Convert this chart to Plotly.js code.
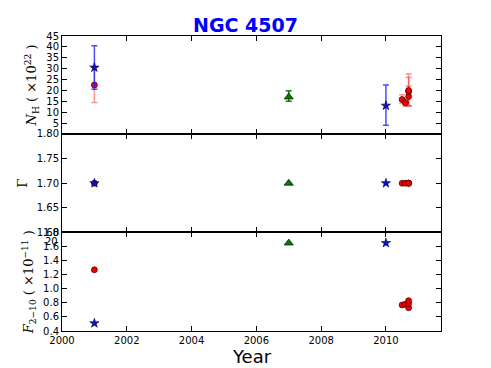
<!DOCTYPE html>
<html>
<head>
<meta charset="utf-8">
<script src="https://cdn.plot.ly/plotly-3.0.1.min.js"></script>
<style>body{margin:0;padding:0;}</style>
</head>
<body>
<div id="graph" style="width:491px;height:368px;"></div>
<script>
// blue stars
var starYear = [2001.0, 2010.0];
var starNH = [30.5, 13.0];
var starNHlo = [20.5, 4.0];
var starNHhi = [40.5, 22.5];
var starGamma = [1.70, 1.70];
var starFlux = [0.51, 1.65];

// red circles
var circYear = [2001.0, 2010.5, 2010.6, 2010.7, 2010.7, 2010.7];
var circNH = [22.5, 15.8, 14.3, 17.2, 19.5, 20.0];
var circNHlo = [14.5, 14.0, 12.8, 12.8, 13.0, 13.0];
var circNHhi = [30.5, 18.0, 16.0, 22.0, 26.0, 27.5];
var circGamma = [1.70, 1.70, 1.70, 1.70, 1.70, 1.70];
var circFlux = [1.27, 0.77, 0.78, 0.73, 0.79, 0.83];

// green triangles
var triYear = [2007.0];
var triNH = [17.0];
var triNHlo = [15.0];
var triNHhi = [19.8];
var triGamma = [1.70];
var triFlux = [1.65];

function errPlus(v, hi) { return v.map(function (d, i) { return hi[i] - d; }); }
function errMinus(v, lo) { return v.map(function (d, i) { return d - lo[i]; }); }

var starMarker = {symbol: 'star', size: 7, color: '#1010c8', line: {color: '#000040', width: 0.6}};
var circMarker = {symbol: 'circle', size: 6, color: '#ee0000', line: {color: '#400000', width: 0.7}};
var triMarker = {symbol: 'triangle-up', size: 8, color: '#107010', line: {color: '#002000', width: 0.7}};

var data = [
    {x: circYear, y: circNH, xaxis: 'x', yaxis: 'y', type: 'scatter', mode: 'markers', marker: circMarker,
        error_y: {type: 'data', symmetric: false, array: errPlus(circNH, circNHhi), arrayminus: errMinus(circNH, circNHlo),
            color: 'rgba(240,60,60,0.55)', thickness: 1.5, width: 3}},
    {x: starYear, y: starNH, xaxis: 'x', yaxis: 'y', type: 'scatter', mode: 'markers', marker: starMarker,
        error_y: {type: 'data', symmetric: false, array: errPlus(starNH, starNHhi), arrayminus: errMinus(starNH, starNHlo),
            color: 'rgba(30,30,255,0.8)', thickness: 1.5, width: 3}},
    {x: triYear, y: triNH, xaxis: 'x', yaxis: 'y', type: 'scatter', mode: 'markers', marker: triMarker,
        error_y: {type: 'data', symmetric: false, array: errPlus(triNH, triNHhi), arrayminus: errMinus(triNH, triNHlo),
            color: '#108010', thickness: 1.5, width: 3}},
    {x: circYear, y: circGamma, xaxis: 'x2', yaxis: 'y2', type: 'scatter', mode: 'markers', marker: circMarker},
    {x: starYear, y: starGamma, xaxis: 'x2', yaxis: 'y2', type: 'scatter', mode: 'markers', marker: starMarker},
    {x: triYear, y: triGamma, xaxis: 'x2', yaxis: 'y2', type: 'scatter', mode: 'markers', marker: triMarker},
    {x: circYear, y: circFlux, xaxis: 'x3', yaxis: 'y3', type: 'scatter', mode: 'markers', marker: circMarker},
    {x: starYear, y: starFlux, xaxis: 'x3', yaxis: 'y3', type: 'scatter', mode: 'markers', marker: starMarker},
    {x: triYear, y: triFlux, xaxis: 'x3', yaxis: 'y3', type: 'scatter', mode: 'markers', marker: triMarker}
];

var tickFont = {family: 'DejaVu Sans', size: 10, color: '#000'};
function xAx(anchor, labels) {
    return {
        anchor: anchor, range: [2000, 2011.7], dtick: 2, tick0: 2000,
        showticklabels: labels, ticks: 'inside', ticklen: 5, tickcolor: '#000', mirror: 'ticks',
        showline: true, linecolor: '#000', linewidth: 1, showgrid: false, zeroline: false,
        tickfont: tickFont
    };
}
function yAx(anchor, domain, range, titleText, tickvals, ticktext) {
    return {
        anchor: anchor, domain: domain, range: range, ticks: 'inside', ticklen: 5, tickcolor: '#000',
        mirror: 'ticks', showline: true, linecolor: '#000', linewidth: 1, showgrid: false, zeroline: false,
        tickfont: tickFont, tickmode: 'array', tickvals: tickvals, ticktext: ticktext,
        title: {text: titleText, font: {family: 'DejaVu Serif', size: 13, color: '#000'}, standoff: 6}
    };
}

var layout = {
    width: 491, height: 368,
    margin: {l: 62, r: 50, t: 36, b: 37},
    paper_bgcolor: '#fff', plot_bgcolor: '#fff',
    showlegend: false,
    title: {text: '<b>NGC 4507</b>', font: {family: 'DejaVu Sans', size: 19, color: '#0000ff'},
        x: 0.5, xanchor: 'center', y: 0.93, yanchor: 'middle'},
    xaxis: xAx('y', false),
    xaxis2: xAx('y2', false),
    xaxis3: xAx('y3', true),
    yaxis: yAx('x', [0.668, 1], [0, 45], '<i>N</i><sub>H</sub> ( ×10<sup>22</sup> )',
        [5, 10, 15, 20, 25, 30, 35, 40, 45], ['5', '10', '15', '20', '25', '30', '35', '40', '45']),
    yaxis2: yAx('x2', [0.334, 0.668], [1.60, 1.80], 'Γ',
        [1.60, 1.65, 1.70, 1.75, 1.80], ['1.60', '1.65', '1.70', '1.75', '1.80']),
    yaxis3: yAx('x3', [0, 0.334], [0.4, 1.8], '<i>F</i><sub>2−10</sub> ( ×10<sup>−11</sup> )',
        [0.4, 0.6, 0.8, 1.0, 1.2, 1.4, 1.6, 1.8], ['0.4', '0.6', '0.8', '1.0', '1.2', '1.4', '1.6', '1.8']),
    annotations: [
        {text: 'Year', xref: 'paper', yref: 'paper', x: 0.5, y: -0.045, xanchor: 'center', yanchor: 'top',
            showarrow: false, font: {family: 'DejaVu Sans', size: 18, color: '#000'}},
        {text: '20', xref: 'paper', yref: 'paper', x: -0.005, y: 0.305, xanchor: 'right', yanchor: 'middle',
            showarrow: false, font: {family: 'DejaVu Sans', size: 10, color: '#000'}}
    ]
};
layout.xaxis.matches = 'x3';
layout.xaxis2.matches = 'x3';

Plotly.newPlot('graph', data, layout, {displayModeBar: false});
</script>
</body>
</html>
